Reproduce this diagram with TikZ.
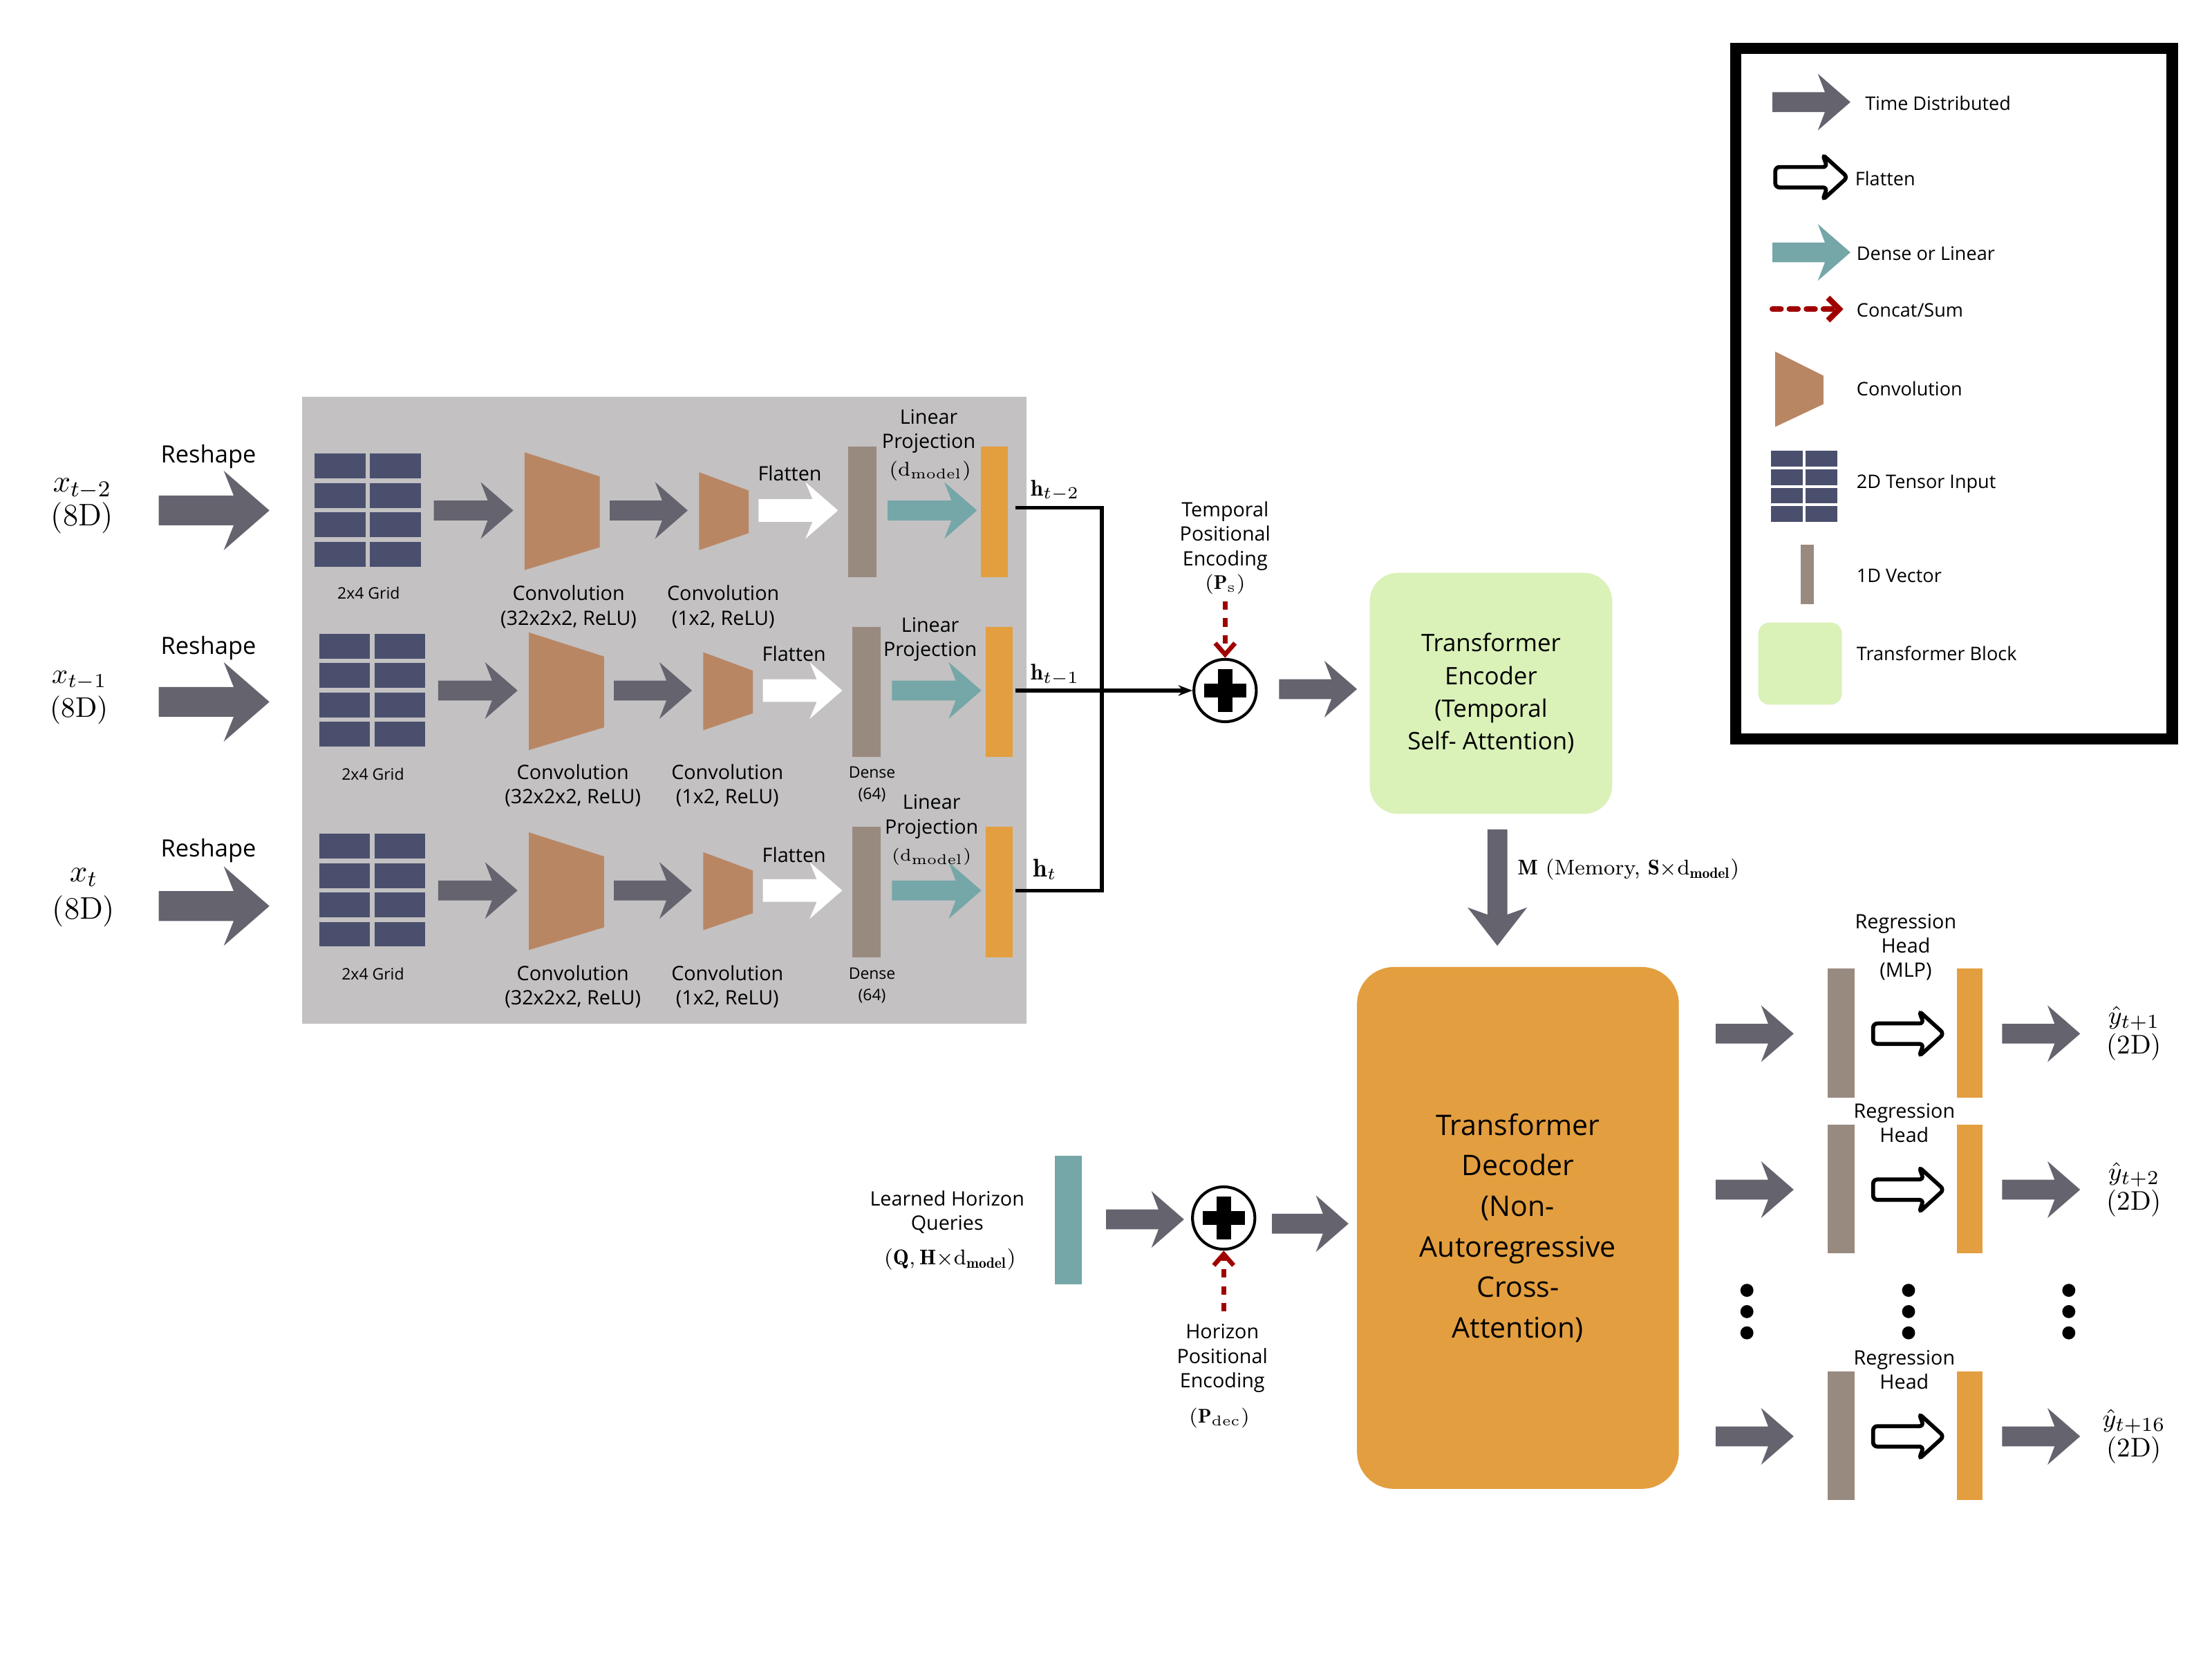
\documentclass[tikz,border=0pt]{standalone}
\usepackage{fontspec}
\setsansfont{Open Sans}
\usetikzlibrary{arrows.meta}
\definecolor{tdgray}{HTML}{64636E}
\definecolor{teal}{HTML}{75A6A8}
\definecolor{conv}{HTML}{B98664}
\definecolor{gridc}{HTML}{4B4F6E}
\definecolor{vec}{HTML}{998A80}
\definecolor{orng}{HTML}{E39E3F}
\definecolor{panel}{HTML}{C3C1C2}
\definecolor{green}{HTML}{DAF1B8}
\definecolor{dred}{HTML}{A00000}
\newcommand\FatArrow[6]{\fill[#6] (#1,#3-#5) -- (#2-#4*0.9,#3-#5) -- (#2-#4*1.15,#3-#4) -- (#2,#3) -- (#2-#4*1.15,#3+#4) -- (#2-#4*0.9,#3+#5) -- (#1,#3+#5) -- cycle;}
\newcommand\FlatArrow[5]{\draw[#5] (#1,#3-#4*0.45) -- (#2-#4*0.9,#3-#4*0.45) -- (#2-#4*1.1,#3-#4) -- (#2,#3) -- (#2-#4*1.1,#3+#4) -- (#2-#4*0.9,#3+#4*0.45) -- (#1,#3+#4*0.45) -- cycle;}
\newcommand\GridIn[2]{\foreach \i in {0,1}{\foreach \j in {0,1,2,3}{\fill[gridc] (#1+\i*39,#2+\j*20.7) rectangle ++(36,17.5);}}}
\newcommand\Trap[7]{\fill[conv] (#1,#3) -- (#2,#5) -- (#2,#6) -- (#1,#4) -- cycle;}
\tikzset{lab/.style={font=\sffamily\fontsize{7}{8.6}\selectfont,align=center,inner sep=0pt},
 sml/.style={font=\sffamily\fontsize{5.6}{7.5}\selectfont,align=center,inner sep=0pt},
 leg/.style={font=\sffamily\fontsize{6.6}{8}\selectfont,anchor=west,inner sep=0pt},
 redd/.style={dred,line width=1.6pt,dashed,-{Straight Barb[length=4pt,width=7pt]}}}
\begin{document}
\begin{tikzpicture}[x=0.5pt,y=-0.5pt]
\useasboundingbox[fill=white] (0,0) rectangle (1560,1170);
\fill[panel] (213,280) rectangle (724,722);
% rows
\foreach \dx/\dy in {0/0,3/127,3/268}{
\begin{scope}[shift={(\dx,\dy)}]
\GridIn{222}{320}
\FatArrow{306}{362}{360}{20}{7}{tdgray}
\Trap{370}{423}{319}{402}{336}{386}{}
\FatArrow{430}{485}{360}{20}{7}{tdgray}
\Trap{493}{528}{333}{388}{346}{376}{}
\FatArrow{535}{591}{360}{20}{8}{white}
\fill[vec] (598,315) rectangle (618,407);
\FatArrow{626}{689}{360}{20}{7}{teal}
\fill[orng] (692,315) rectangle (711,407);
\end{scope}}
% row labels
\node[sml] (g1) at (260,418) {2x4 Grid};
\node[sml] (g2) at (263,546) {2x4 Grid};
\node[sml] (g3) at (263,687) {2x4 Grid};
\node[lab] (c1a) at (401,428) {Convolution\\(32x2x2, ReLU)};
\node[lab] (c1b) at (510,428) {Convolution\\(1x2, ReLU)};
\node[lab] (c2a) at (404,554) {Convolution\\(32x2x2, ReLU)};
\node[lab] (c2b) at (513,554) {Convolution\\(1x2, ReLU)};
\node[lab] (c3a) at (404,696) {Convolution\\(32x2x2, ReLU)};
\node[lab] (c3b) at (513,696) {Convolution\\(1x2, ReLU)};
\node[lab] (f1) at (557,334) {Flatten};
\node[lab] (f2) at (560,461) {Flatten};
\node[lab] (f3) at (560,603) {Flatten};
\node[sml] (d2) at (615,553) {Dense\\(64)};
\node[sml] (d3) at (615,695) {Dense\\(64)};
\node[lab] (lp1) at (655,304) {Linear\\Projection};
\node[font=\fontsize{7}{8}\selectfont,inner sep=0pt] (dm1) at (656,332) {(d$_{\mathrm{model}}$)};
\node[lab] (lp2) at (656,451) {Linear\\Projection};
\node[lab] (lp3) at (657,576) {Linear\\Projection};
\node[font=\fontsize{6}{7}\selectfont,inner sep=0pt] (dm3) at (657,604) {(d$_{\mathrm{model}}$)};
% reshape
\foreach \yy/\ll [count=\k] in {360/322,495/457,639/600}{
\FatArrow{112}{190}{\yy}{28}{10.5}{tdgray}
\node[font=\sffamily\fontsize{8.4}{10}\selectfont,inner sep=0pt] (rs\k) at (147,\ll) {Reshape};}
\node[align=center,inner sep=0pt,font=\fontsize{11}{12}\selectfont] (x1) at (58,357) {$x_{t-2}$\\(8D)};
\node[align=center,inner sep=0pt,font=\fontsize{10}{12}\selectfont] (x2) at (56,492) {$x_{t-1}$\\(8D)};
\node[align=center,inner sep=0pt,font=\fontsize{11}{13}\selectfont] (x3) at (59,633) {$x_{t}$\\(8D)};
% h connectors
\coordinate (o1) at (716,358); \coordinate (o2) at (716,487); \coordinate (o3) at (716,628);
\coordinate (j1) at (777,358); \coordinate (j3) at (777,628);
\node[draw,circle,line width=1pt,minimum size=22pt,inner sep=0pt] (p1) at (864,487) {};
\fill ([xshift=-7.5pt,yshift=-2.5pt]p1.center) rectangle ([xshift=7.5pt,yshift=2.5pt]p1.center);
\fill ([xshift=-2.5pt,yshift=-7.5pt]p1.center) rectangle ([xshift=2.5pt,yshift=7.5pt]p1.center);
\draw[line width=1.3pt] (o1) -- (j1) -- (j3) -- (o3);
\draw[line width=1.3pt,-{Stealth[length=5pt]}] (o2) -- (p1.west);
\node[font=\fontsize{8}{9}\selectfont,inner sep=0pt] (h1) at (744,346) {$\mathbf{h}_{t-2}$};
\node[font=\fontsize{8}{9}\selectfont,inner sep=0pt] (h2) at (744,476) {$\mathbf{h}_{t-1}$};
\node[font=\fontsize{9}{9}\selectfont,inner sep=0pt] (h3) at (737,613) {$\mathbf{h}_{t}$};
\node[lab] (tpe) at (864,378) {Temporal\\Positional\\Encoding};
\node[font=\fontsize{7}{8}\selectfont,inner sep=0pt] (ps) at (864,412) {($\mathbf{P}_{\mathrm{s}}$)};
\coordinate (rs) at (864,424);
\draw[redd] (rs) -- (p1.north);
\FatArrow{902}{957}{486}{20}{7}{tdgray}
% encoder
\node[fill=green,rounded corners=10pt,minimum width=85.5pt,minimum height=85pt,inner sep=0pt,align=center,font=\sffamily\fontsize{8.5}{11.5}\selectfont] (enc) at (1051.5,489) {Transformer\\Encoder\\(Temporal\\Self- Attention)};
% memory arrow
\fill[tdgray] (1049,585) -- (1063,585) -- (1063,645) -- (1077,640) -- (1056,667) -- (1035,640) -- (1049,645) -- cycle;
\node[anchor=west,inner sep=0pt,font=\fontsize{7.5}{9}\selectfont] (mem) at (1070,613) {$\mathbf{M}$ (Memory, $\mathbf{S}{\times}\mathrm{d}_{\mathbf{model}}$)};
% decoder
\node[fill=orng,rounded corners=13pt,minimum width=113.5pt,minimum height=184pt,inner sep=0pt,align=center,font=\sffamily\fontsize{10}{14.3}\selectfont] (dec) at (1070.5,866) {Transformer\\Decoder\\(Non-\\Autoregressive\\Cross-\\Attention)};
% queries
\node[lab] (lhq) at (668,855) {Learned Horizon\\Queries};
\node[font=\fontsize{7.5}{9}\selectfont,inner sep=0pt] (qq) at (670,888) {($\mathbf{Q},\mathbf{H}{\times}\mathrm{d}_{\mathbf{model}}$)};
\fill[teal] (744,815) rectangle (763,906);
\FatArrow{780}{835}{860}{20}{7}{tdgray}
\node[draw,circle,line width=1pt,minimum size=22pt,inner sep=0pt] (p2) at (863,859) {};
\fill ([xshift=-7.5pt,yshift=-2.5pt]p2.center) rectangle ([xshift=7.5pt,yshift=2.5pt]p2.center);
\fill ([xshift=-2.5pt,yshift=-7.5pt]p2.center) rectangle ([xshift=2.5pt,yshift=7.5pt]p2.center);
\coordinate (rd) at (863,925);
\draw[redd] (rd) -- (p2.south);
\node[lab] (hpe) at (862,958) {Horizon\\Positional\\Encoding};
\node[font=\fontsize{7}{8}\selectfont,inner sep=0pt] (pdec) at (860,1000) {($\mathbf{P}_{\mathrm{dec}}$)};
\FatArrow{897}{951}{863}{20}{7}{tdgray}
% outputs
\foreach \yy/\lab [count=\k] in {729/{t+1},839/{t+2},1013/{t+16}}{
\FatArrow{1210}{1265}{\yy}{20}{7}{tdgray}
\fill[vec] (1289,\yy-46) rectangle (1308,\yy+45);
\FlatArrow{1321}{1371}{\yy}{16}{line width=1.4pt,fill=white,rounded corners=1.5pt}
\fill[orng] (1380,\yy-46) rectangle (1398,\yy+45);
\FatArrow{1412}{1467}{\yy}{20}{7}{tdgray}
\node[align=center,inner sep=0pt,font=\fontsize{9.5}{10.5}\selectfont] (yh\k) at (1505,\yy) {$\hat{y}_{\lab}$\\(2D)};}
\node[lab] (rh1) at (1344,668) {Regression\\Head\\(MLP)};
\node[lab] (rh2) at (1343,792) {Regression\\Head};
\node[lab] (rh3) at (1343,966) {Regression\\Head};
\foreach \xx in {1232,1346,1459}{\foreach \yy in {910,925,940}{\fill (\xx,\yy) circle (2.3pt);}}
% legend
\draw[line width=4pt] (1224,34) rectangle (1532,521);
\FatArrow{1250}{1305}{72}{20}{7}{tdgray}
\node[leg] (l1) at (1315,73) {Time Distributed};
\FlatArrow{1252}{1303}{125}{16}{line width=1.4pt,fill=white,rounded corners=1.5pt}
\node[leg] (l2) at (1308,126) {Flatten};
\FatArrow{1250}{1305}{178}{20}{7}{teal}
\node[leg] (l3) at (1309,179) {Dense or Linear};
\coordinate (ls) at (1250,218); \coordinate (le) at (1300,218);
\draw[dred,line width=2pt,dash pattern=on 3pt off 3pt,line cap=round,-{Straight Barb[length=4pt,width=8pt]}] (ls) -- (le);
\node[leg] (l4) at (1309,219) {Concat/Sum};
\fill[conv] (1252,248) -- (1286,265) -- (1286,285) -- (1252,301) -- cycle;
\node[leg] (l5) at (1309,274) {Convolution};
\foreach \i in {0,1}{\foreach \j in {0,1,2,3}{\fill[gridc] (1249+\i*24.5,318+\j*13) rectangle ++(22.5,11);}}
\node[leg] (l6) at (1309,341) {2D Tensor Input};
\fill[vec] (1270,384) rectangle (1279,426);
\node[leg] (l7) at (1309,406) {1D Vector};
\fill[green,rounded corners=4pt] (1240,439) rectangle (1299,497);
\node[leg] (l8) at (1309,461) {Transformer Block};
\end{tikzpicture}
\end{document}
